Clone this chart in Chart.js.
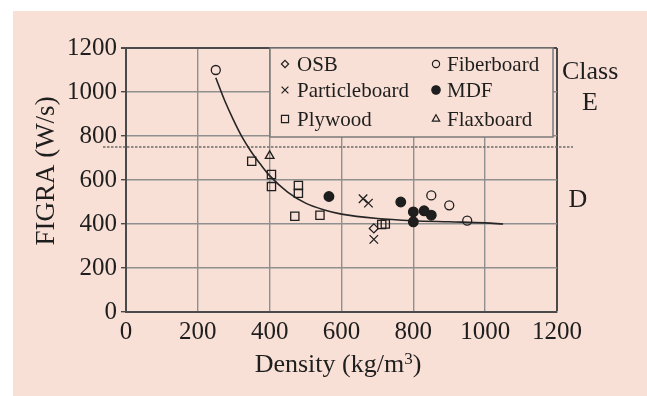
<!DOCTYPE html>
<html>
<head>
<meta charset="utf-8">
<script src="https://cdn.jsdelivr.net/npm/chart.js@4.4.1/dist/chart.umd.min.js"></script>
<style>
  html, body { margin: 0; padding: 0; background: #ffffff; }
  #wrap { width: 647px; height: 396px; }
</style>
</head>
<body>
<div id="wrap"><canvas id="c" width="647" height="396"></canvas></div>
<script>
// Board density (kg/m3) and FIGRA (W/s) per product type
const osbDensity = [690];
const osbFigra = [380];
const particleDensity = [660, 675, 690];
const particleFigra = [515, 495, 330];
const plywoodDensity = [350, 405, 405, 470, 480, 480, 540, 712, 722];
const plywoodFigra = [685, 625, 570, 435, 575, 540, 440, 398, 400];
const fiberDensity = [250, 850, 900, 950];
const fiberFigra = [1100, 530, 485, 415];
const mdfDensity = [565, 765, 800, 800, 830, 850];
const mdfFigra = [525, 500, 455, 410, 460, 440];
const flaxDensity = [400];
const flaxFigra = [710];

// Trend curve through the measurements
const trendDensity = [250, 275, 300, 325, 350, 375, 400, 450, 500, 550, 600, 700, 800, 900, 1000, 1050];
const trendFigra = [1065, 960, 870, 790, 725, 670, 620, 545, 495, 465, 445, 425, 415, 410, 405, 400];

// Axis ticks and class boundary
const densityTicks = [0, 200, 400, 600, 800, 1000, 1200];
const figraTicks = [0, 200, 400, 600, 800, 1000, 1200];
const classBoundary = 750;

const SERIF = '"Liberation Serif", "Times New Roman", serif';
const INK = '#1e1e1e';
const PANEL = '#f9e0d6';

const pts = (xs, ys) => xs.map((x, i) => ({ x: x, y: ys[i] }));

const series = [
  { label: 'OSB', style: 'rectRot', r: 4.5, fill: false, data: pts(osbDensity, osbFigra), lr: 3.6 },
  { label: 'Particleboard', style: 'crossRot', r: 6, fill: false, data: pts(particleDensity, particleFigra), lr: 4.8 },
  { label: 'Plywood', style: 'rect', r: 5.8, fill: false, data: pts(plywoodDensity, plywoodFigra), lr: 5 },
  { label: 'Fiberboard', style: 'circle', r: 4.5, fill: false, data: pts(fiberDensity, fiberFigra), lr: 3.6 },
  { label: 'MDF', style: 'circle', r: 4.8, fill: true, data: pts(mdfDensity, mdfFigra), lr: 4.2 },
  { label: 'Flaxboard', style: 'triangle', r: 5, fill: false, data: pts(flaxDensity, flaxFigra), lr: 4.2 }
];

const datasets = series.map(s => ({
  label: s.label,
  data: s.data,
  pointStyle: s.style,
  pointRadius: s.r,
  pointHoverRadius: s.r,
  borderColor: INK,
  backgroundColor: s.fill ? INK : 'rgba(0,0,0,0)',
  pointBorderWidth: 1.3,
  showLine: false
}));

datasets.push({
  label: 'trend',
  type: 'line',
  data: pts(trendDensity, trendFigra),
  borderColor: '#262626',
  borderWidth: 1.6,
  pointRadius: 0,
  fill: false,
  tension: 0.4,
  cubicInterpolationMode: 'monotone'
});

function marker(ctx, style, r, x, y, filled) {
  ctx.save();
  ctx.beginPath();
  ctx.lineWidth = 1.2;
  ctx.strokeStyle = INK;
  ctx.fillStyle = INK;
  if (style === 'circle') {
    ctx.arc(x, y, r, 0, Math.PI * 2);
  } else if (style === 'rect') {
    const h = r * Math.SQRT1_2;
    ctx.rect(x - h, y - h, 2 * h, 2 * h);
  } else if (style === 'rectRot') {
    ctx.moveTo(x, y - r); ctx.lineTo(x + r, y); ctx.lineTo(x, y + r); ctx.lineTo(x - r, y); ctx.closePath();
  } else if (style === 'crossRot') {
    const h = r * Math.SQRT1_2;
    ctx.moveTo(x - h, y - h); ctx.lineTo(x + h, y + h);
    ctx.moveTo(x + h, y - h); ctx.lineTo(x - h, y + h);
  } else if (style === 'triangle') {
    ctx.moveTo(x, y - r); ctx.lineTo(x + r * 0.87, y + r * 0.5); ctx.lineTo(x - r * 0.87, y + r * 0.5); ctx.closePath();
  }
  if (filled) ctx.fill();
  ctx.stroke();
  ctx.restore();
}

const panelPlugin = {
  id: 'panel',
  beforeDraw(chart) {
    const ctx = chart.ctx;
    ctx.save();
    ctx.fillStyle = '#ffffff';
    ctx.fillRect(0, 0, chart.width, chart.height);
    ctx.fillStyle = PANEL;
    ctx.fillRect(13, 11, chart.width - 13, chart.height - 11);
    ctx.restore();
  }
};

const overlayPlugin = {
  id: 'overlay',
  beforeDatasetsDraw(chart) {
    const ctx = chart.ctx;
    const a = chart.chartArea;
    const ys = chart.scales.y;

    // dotted class boundary
    const yb = ys.getPixelForValue(classBoundary);
    ctx.save();
    ctx.strokeStyle = '#6e6e6e';
    ctx.lineWidth = 1.6;
    ctx.setLineDash([2.5, 1.5]);
    ctx.beginPath();
    ctx.moveTo(a.left - 23, yb);
    ctx.lineTo(a.right + 16, yb);
    ctx.stroke();
    ctx.restore();

    // legend box
    const bx = 270, by = a.top, bw = 283, bh = 89;
    ctx.save();
    ctx.fillStyle = PANEL;
    ctx.fillRect(bx, by, bw, bh);
    ctx.strokeStyle = '#7a7a7a';
    ctx.lineWidth = 1.5;
    ctx.strokeRect(bx, by, bw, bh);
    ctx.font = '21px ' + SERIF;
    ctx.fillStyle = INK;
    ctx.textBaseline = 'alphabetic';
    ctx.textAlign = 'left';
    const cols = [{ mx: 285, tx: 297 }, { mx: 436, tx: 447 }];
    const rows = [71, 97, 126];
    series.forEach((s, i) => {
      const c = cols[Math.floor(i / 3)];
      const base = rows[i % 3];
      marker(ctx, s.style, s.lr, c.mx, base - 7, s.fill);
      ctx.fillText(s.label, c.tx, base);
    });
    ctx.restore();
  },
  afterDraw(chart) {
    const ctx = chart.ctx;
    ctx.save();
    ctx.fillStyle = INK;

    // class labels
    ctx.font = '26px ' + SERIF;
    ctx.textBaseline = 'alphabetic';
    ctx.textAlign = 'left';
    ctx.fillText('Class', 562, 79);
    ctx.textAlign = 'center';
    ctx.fillText('E', 590, 110);
    ctx.fillText('D', 578, 207);

    // y axis title
    ctx.save();
    ctx.translate(47, 171);
    ctx.rotate(-Math.PI / 2);
    ctx.font = '27px ' + SERIF;
    ctx.textAlign = 'center';
    ctx.textBaseline = 'middle';
    ctx.fillText('FIGRA (W/s)', 0, 0);
    ctx.restore();

    // x axis title with superscript
    const main = 'Density (kg/m', sup = '3', tail = ')';
    ctx.textAlign = 'left';
    ctx.font = '26px ' + SERIF;
    const w1 = ctx.measureText(main).width;
    const w3 = ctx.measureText(tail).width;
    ctx.font = '17px ' + SERIF;
    const w2 = ctx.measureText(sup).width;
    const total = w1 + w2 + w3;
    const x = 338 - total / 2;
    const base = 372;
    ctx.font = '26px ' + SERIF;
    ctx.fillText(main, x, base);
    ctx.font = '17px ' + SERIF;
    ctx.fillText(sup, x + w1, base - 8);
    ctx.font = '26px ' + SERIF;
    ctx.fillText(tail, x + w1 + w2, base);
    ctx.restore();
  }
};

const gridColor = (ctx) => (ctx.tick && ctx.tick.value === 1200) ? '#4a4a4a' : '#8f8f8f';
const gridWidth = (ctx) => (ctx.tick && ctx.tick.value === 1200) ? 2 : 1.4;
const plainLabel = (v) => String(v);

new Chart(document.getElementById('c'), {
  type: 'scatter',
  data: { datasets: datasets },
  plugins: [panelPlugin, overlayPlugin],
  options: {
    responsive: false,
    animation: false,
    devicePixelRatio: 1,
    layout: { padding: { left: 0, top: 48, right: 90, bottom: 0 } },
    plugins: { legend: { display: false }, tooltip: { enabled: false } },
    scales: {
      x: {
        type: 'linear',
        min: 0, max: 1200,
        afterBuildTicks: (s) => { s.ticks = densityTicks.map(v => ({ value: v })); },
        afterFit: (s) => { s.height = 84; },
        grid: { color: gridColor, lineWidth: gridWidth, drawTicks: false },
        border: { color: '#4a4a4a', width: 2 },
        ticks: { color: INK, font: { family: SERIF, size: 25 }, padding: 5, maxRotation: 0, callback: plainLabel }
      },
      y: {
        type: 'linear',
        min: 0, max: 1200,
        afterBuildTicks: (s) => { s.ticks = figraTicks.map(v => ({ value: v })); },
        afterFit: (s) => { s.width = 126; },
        grid: { color: gridColor, lineWidth: gridWidth, drawTicks: true, tickLength: 5, tickColor: '#4a4a4a' },
        border: { color: '#4a4a4a', width: 2 },
        ticks: { color: INK, font: { family: SERIF, size: 25 }, padding: 4, callback: plainLabel }
      }
    }
  }
});
</script>
</body>
</html>
